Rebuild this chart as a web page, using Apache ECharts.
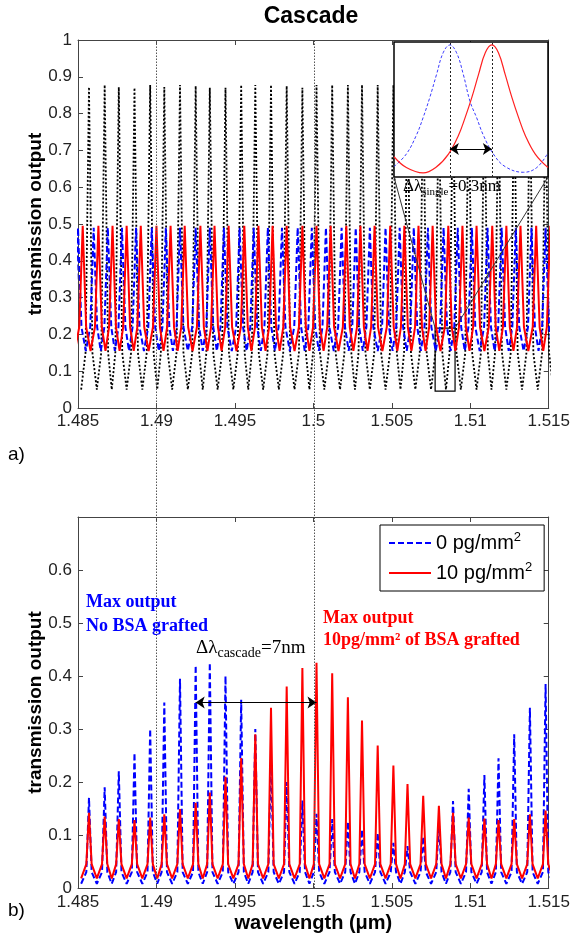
<!DOCTYPE html>
<html><head><meta charset="utf-8">
<script src="https://cdn.jsdelivr.net/npm/echarts@6/dist/echarts.min.js"></script>
<style>html,body{margin:0;padding:0;background:#fff}#c{width:573px;height:941px}</style>
</head><body><div id="c"></div>
<script>
// ================= DATA =================
const wlMin = 1.485, wlMax = 1.515, wlStep = 0.005;

// comb of the first ring (black dotted, a) and cascade output peaks (b)
const combPeakWl = [1.4857,1.4867,1.4876,1.4886,1.4896,1.4905,1.4915,1.4925,1.4934,1.4944,1.4954,1.4963,1.4973,1.4983,1.4993,1.5002,1.5012,1.5022,1.5031,1.5041,1.5051,1.5060,1.5070,1.5080,1.5089,1.5099,1.5109,1.5118,1.5128,1.5138,1.5148];
const blackPeakTop = [0.872,0.878,0.872,0.870,0.878,0.872,0.878,0.875,0.870,0.870,0.878,0.878,0.878,0.875,0.870,0.878,0.878,0.878,0.878,0.878,0.878,0.875,0.875,0.875,0.875,0.875,0.875,0.875,0.875,0.875,0.875];
const blackTrough = 0.05, blackFoot = 0.15;

// second ring, 0 pg/mm2 (blue) and 10 pg/mm2 (red)
const ring0PeakWl = [1.4850,1.4860,1.4869,1.4878,1.4887,1.4897,1.4906,1.4915,1.4925,1.4934,1.4943,1.4953,1.4962,1.4971,1.4980,1.4990,1.4999,1.5008,1.5018,1.5027,1.5036,1.5046,1.5055,1.5064,1.5073,1.5083,1.5092,1.5101,1.5111,1.5120,1.5129,1.5139,1.5148];
const ring10PeakWl = [1.4853,1.4863,1.4872,1.4881,1.4890,1.4900,1.4909,1.4918,1.4928,1.4937,1.4946,1.4956,1.4965,1.4974,1.4983,1.4993,1.5002,1.5011,1.5021,1.5030,1.5039,1.5049,1.5058,1.5067,1.5076,1.5086,1.5095,1.5104,1.5114,1.5123,1.5132,1.5142,1.5151];
const ring0PeakTop = [0.49,0.49,0.49,0.49,0.49,0.49,0.49,0.49,0.49,0.49,0.49,0.49,0.49,0.49,0.49,0.49,0.49,0.49,0.49,0.49,0.49,0.49,0.49,0.49,0.49,0.49,0.49,0.49,0.49,0.49,0.49,0.49,0.49];
const ring10PeakTop = [0.495,0.495,0.495,0.495,0.495,0.495,0.495,0.495,0.495,0.495,0.495,0.495,0.495,0.495,0.495,0.495,0.495,0.495,0.495,0.495,0.495,0.495,0.495,0.495,0.495,0.495,0.495,0.495,0.495,0.495,0.495,0.495,0.495];
const ringTrough = 0.155, ringFoot = 0.22;
const topHalfWidth = 0.00022;

// cascade output (b)
const cascade0Peak = [0.17,0.19,0.22,0.255,0.30,0.35,0.395,0.42,0.425,0.40,0.355,0.30,0.245,0.20,0.165,0.14,0.13,0.125,0.11,0.104,0.085,0.079,0.097,0.123,0.164,0.187,0.213,0.245,0.29,0.34,0.385];
const cascade10Peak = [0.142,0.135,0.13,0.128,0.133,0.139,0.149,0.161,0.18,0.21,0.245,0.29,0.34,0.38,0.415,0.425,0.405,0.36,0.316,0.269,0.231,0.196,0.174,0.155,0.142,0.133,0.131,0.128,0.13,0.139,0.146];
const cascade0Trough = 0.008, cascade0Foot = 0.03;
const cascade10Trough = 0.018, cascade10Foot = 0.045;
const cascadeHalfWidth = 0.00017;

// inset (offset in nm)
const insetBlueX = [0,0.088,0.16,0.208,0.256,0.304,0.351,0.399,0.447,0.495,0.543,0.59,0.638,0.71,0.794,0.925,1.02,1.1];
const insetBlueY = [0.077,0.17,0.31,0.44,0.59,0.76,0.92,0.978,0.92,0.76,0.56,0.44,0.31,0.17,0.077,0.035,0.07,0.18];
const insetRedX = [0,0.088,0.208,0.298,0.389,0.461,0.508,0.556,0.604,0.652,0.699,0.746,0.794,0.842,0.89,0.937,1.009,1.1];
const insetRedY = [0.15,0.07,0.03,0.07,0.17,0.31,0.44,0.59,0.76,0.92,0.978,0.92,0.76,0.59,0.44,0.31,0.17,0.07];
const insetPeaks = [0.399, 0.699];
const insetArrowY = 0.207;
const insetXMax = 1.1;

const markWl = [1.4925, 1.5002];
const cascadeArrowY = 0.35;
const zoomBox = [[1.50776, 0.046], [1.50903, 0.217]];
const legendNames = ['0 pg/mm2', '10 pg/mm2'];

// ================= BUILD =================
const SANS = '"Liberation Sans", Arial, sans-serif';
const SERIF = '"Liberation Serif", "Times New Roman", serif';

function spikes(peakWl, peakVal, foot, trough, hw) {
  const pts = [];
  const n = peakWl.length;
  for (let i = 0; i < n; i++) {
    const prev = i > 0 ? peakWl[i - 1] : peakWl[0] - (peakWl[1] - peakWl[0]);
    pts.push([(prev + peakWl[i]) / 2, trough]);
    pts.push([peakWl[i] - hw, foot], [peakWl[i], peakVal[i]], [peakWl[i] + hw, foot]);
  }
  pts.push([peakWl[n - 1] + (peakWl[n - 1] - peakWl[n - 2]) / 2, trough]);
  return pts;
}
function zip(xs, ys) { return xs.map((x, i) => [x, ys[i]]); }

const AX = '#444';
function xAx(grid, pos, labels, extra) {
  return Object.assign({
    gridIndex: grid, type: 'value', min: wlMin, max: wlMax, interval: wlStep, position: pos,
    axisLine: { onZero: false, lineStyle: { color: AX, width: 1 } },
    axisTick: { inside: true, length: 5, lineStyle: { color: AX } },
    axisLabel: { show: labels, color: '#222', fontSize: 17, fontFamily: SANS, margin: 5 },
    splitLine: { show: false }
  }, extra || {});
}
function yAx(grid, pos, max, labels, extra) {
  return Object.assign({
    gridIndex: grid, type: 'value', min: 0, max: max, interval: 0.1, position: pos,
    axisLine: { show: true, onZero: false, lineStyle: { color: AX, width: 1 } },
    axisTick: { show: true, inside: true, length: 5, lineStyle: { color: AX } },
    axisLabel: { show: labels, color: '#222', fontSize: 17, fontFamily: SANS, margin: 6,
      formatter: v => (v > max - 0.05 && max < 1 ? '' : String(Math.round(v * 10) / 10)) },
    splitLine: { show: false }
  }, extra || {});
}
const yName = { name: 'transmission output', nameLocation: 'middle', nameGap: 33, nameMoveOverlap: false,
  nameTextStyle: { fontSize: 19, fontWeight: 'bold', fontFamily: SANS, color: '#000' } };

const option = {
  backgroundColor: '#fff',
  animation: false,
  grid: [
    { left: 78, top: 40, width: 472, height: 368 },
    { left: 78, top: 517, width: 472, height: 371 },
    { left: 78, top: 40, width: 472, height: 848 },
    { left: 394, top: 42, width: 154, height: 135, show: true, backgroundColor: '#fff', borderColor: '#000', borderWidth: 1.5, z: 5 }
  ],
  xAxis: [
    xAx(0, 'bottom', true),
    xAx(0, 'top', false),
    xAx(1, 'bottom', true, { name: 'wavelength (\u03bcm)', nameLocation: 'middle', nameGap: 25,
      nameTextStyle: { fontSize: 20, fontWeight: 'bold', fontFamily: SANS, color: '#000' },
      axisLabel: { color: '#222', fontSize: 17, fontFamily: SANS, margin: 6 } }),
    xAx(1, 'top', false),
    { gridIndex: 2, type: 'value', min: wlMin, max: wlMax, show: false },
    { gridIndex: 3, type: 'value', min: 0, max: insetXMax, show: false }
  ],
  yAxis: [
    yAx(0, 'left', 1, true, yName),
    yAx(0, 'right', 1, false),
    yAx(1, 'left', 0.7, true, yName),
    yAx(1, 'right', 0.7, false),
    { gridIndex: 2, type: 'value', min: 0, max: 1, show: false },
    { gridIndex: 3, type: 'value', min: 0, max: 1, show: false }
  ],
  legend: {
    data: legendNames, left: 380, top: 525, orient: 'vertical',
    borderColor: '#000', borderWidth: 1, backgroundColor: '#fff',
    padding: [6, 12, 6, 8], itemWidth: 42, itemHeight: 12, itemGap: 6,
    itemStyle: { opacity: 0 },
    formatter: n => n.replace('mm2', 'mm{sup|2}'),
    textStyle: { fontSize: 20, fontFamily: SANS, color: '#000', lineHeight: 24,
      rich: { sup: { fontSize: 13, fontFamily: SANS, lineHeight: 13, verticalAlign: 'top' } } }
  },
  series: [
    { name: 'ring1', type: 'line', xAxisIndex: 0, yAxisIndex: 0, symbol: 'none',
      data: spikes(combPeakWl, blackPeakTop, blackFoot, blackTrough, topHalfWidth),
      lineStyle: { color: '#000', width: 1.8, type: [2, 2] },
      markArea: { silent: true, itemStyle: { color: 'rgba(0,0,0,0)', borderColor: '#000', borderWidth: 1.2 },
        data: [[{ coord: zoomBox[0] }, { coord: zoomBox[1] }]] } },
    { name: 'ring2-0', type: 'line', xAxisIndex: 0, yAxisIndex: 0, symbol: 'none',
      data: spikes(ring0PeakWl, ring0PeakTop, ringFoot, ringTrough, topHalfWidth),
      lineStyle: { color: '#0000ff', width: 2, type: [6, 3] } },
    { name: 'ring2-10', type: 'line', xAxisIndex: 0, yAxisIndex: 0, symbol: 'none',
      data: spikes(ring10PeakWl, ring10PeakTop, ringFoot, ringTrough, topHalfWidth),
      lineStyle: { color: '#ff0000', width: 2 } },
    { name: legendNames[0], type: 'line', xAxisIndex: 2, yAxisIndex: 2, symbol: 'none', color: '#0000ff',
      data: spikes(combPeakWl, cascade0Peak, cascade0Foot, cascade0Trough, cascadeHalfWidth),
      lineStyle: { color: '#0000ff', width: 2, type: [6, 3] } },
    { name: legendNames[1], type: 'line', xAxisIndex: 2, yAxisIndex: 2, symbol: 'none', color: '#ff0000',
      data: spikes(combPeakWl, cascade10Peak, cascade10Foot, cascade10Trough, cascadeHalfWidth),
      lineStyle: { color: '#ff0000', width: 2 },
      markLine: { silent: true, symbol: ['arrow', 'arrow'], symbolSize: 9, label: { show: false },
        lineStyle: { color: '#000', type: 'solid', width: 1 },
        data: [[{ coord: [markWl[0], cascadeArrowY] }, { coord: [markWl[1], cascadeArrowY] }]] } },
    { name: 'guides', type: 'line', xAxisIndex: 4, yAxisIndex: 4, symbol: 'none', data: [], z: 3,
      markLine: { silent: true, symbol: 'none', label: { show: false },
        lineStyle: { color: '#555', type: [1.5, 1.5], width: 1 },
        data: markWl.map(v => ({ xAxis: v })) } },
    { name: 'inset0', type: 'line', xAxisIndex: 5, yAxisIndex: 5, symbol: 'none', smooth: 0.4, z: 6,
      data: zip(insetBlueX, insetBlueY), lineStyle: { color: '#3a3aff', width: 1, type: [3, 2] },
      markLine: { silent: true, symbol: 'none', label: { show: false }, z: 6,
        lineStyle: { color: '#222', type: [2, 2], width: 1 },
        data: insetPeaks.map(v => ({ xAxis: v })) } },
    { name: 'inset10', type: 'line', xAxisIndex: 5, yAxisIndex: 5, symbol: 'none', smooth: 0.4, z: 6,
      data: zip(insetRedX, insetRedY), lineStyle: { color: '#ff2020', width: 1.2 },
      markLine: { silent: true, symbol: ['arrow', 'arrow'], symbolSize: 9, label: { show: false }, z: 7,
        lineStyle: { color: '#000', type: 'solid', width: 1.2 },
        data: [[{ coord: [insetPeaks[0], insetArrowY] }, { coord: [insetPeaks[1], insetArrowY] }]] } }
  ]
};

function texts() {
  return [
    { id: 'title', type: 'text', x: 311, y: 17, z: 20,
      style: { text: 'Cascade', font: 'bold 23px ' + SANS, fill: '#000', align: 'center', verticalAlign: 'middle' } },
    { id: 'a', type: 'text', x: 8, y: 455, z: 20,
      style: { text: 'a)', font: '19px ' + SANS, fill: '#000', verticalAlign: 'middle' } },
    { id: 'b', type: 'text', x: 8, y: 911, z: 20,
      style: { text: 'b)', font: '19px ' + SANS, fill: '#000', verticalAlign: 'middle' } },
    { id: 'blueNote', type: 'text', x: 86, y: 590, z: 20,
      style: { text: 'Max output\nNo BSA grafted', font: 'bold 18px ' + SERIF, fill: '#0000ff', lineHeight: 24, verticalAlign: 'top' } },
    { id: 'redNote', type: 'text', x: 323, y: 607, z: 20,
      style: { text: 'Max output\n10pg/mm\u00b2 of BSA grafted', font: 'bold 18px ' + SERIF, fill: '#ff0000', lineHeight: 22, verticalAlign: 'top' } },
    { id: 'dCascade', type: 'text', x: 196, y: 636, z: 20,
      style: { text: '{b|\u0394\u03bb}{s|cascade}{b|=7nm}', verticalAlign: 'top',
        rich: { b: { fontSize: 19, fontFamily: SERIF, fill: '#000', lineHeight: 24, verticalAlign: 'middle' },
                s: { fontSize: 14, fontFamily: SERIF, fill: '#000', lineHeight: 14, verticalAlign: 'bottom' } } } },
    { id: 'dSingle', type: 'text', x: 403, y: 176, z: 20,
      style: { text: '{b|\u0394\u03bb}{s|single}{b|=0.3nm}', verticalAlign: 'top',
        rich: { b: { fontSize: 17, fontFamily: SERIF, fill: '#000', lineHeight: 22, verticalAlign: 'middle' },
                s: { fontSize: 11, fontFamily: SERIF, fill: '#000', lineHeight: 11, verticalAlign: 'bottom' } } } }
  ];
}
option.graphic = texts();

const chart = echarts.init(document.getElementById('c'), null, { renderer: 'canvas' });
chart.setOption(option);

// connectors from the zoom box to the inset, positioned through the library's scales
const tl = chart.convertToPixel({ seriesIndex: 0 }, [zoomBox[0][0], zoomBox[1][1]]);
const tr = chart.convertToPixel({ seriesIndex: 0 }, [zoomBox[1][0], zoomBox[1][1]]);
const bl = chart.convertToPixel({ seriesIndex: 6 }, [0, 0]);
const br = chart.convertToPixel({ seriesIndex: 6 }, [insetXMax, 0]);
const g = texts();
g.push({ id: 'c1', type: 'line', z: 19, shape: { x1: bl[0], y1: bl[1], x2: tl[0], y2: tl[1] }, style: { stroke: '#333', lineWidth: 1 } });
g.push({ id: 'c2', type: 'line', z: 19, shape: { x1: br[0], y1: br[1], x2: tr[0], y2: tr[1] }, style: { stroke: '#333', lineWidth: 1 } });
chart.setOption({ graphic: g });
</script>
</body></html>
